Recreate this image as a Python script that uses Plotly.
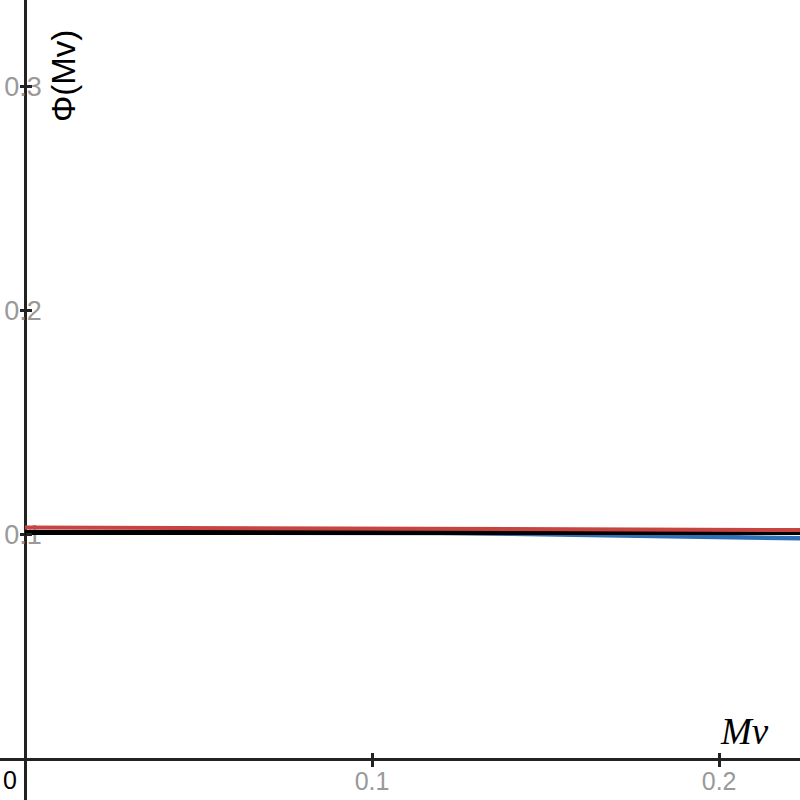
import plotly.graph_objects as go

# data
x_vals = [0.0, 0.02, 0.04, 0.06, 0.08, 0.10, 0.12, 0.14, 0.16, 0.18, 0.20, 0.224]
red_vals = [0.1033, 0.1032, 0.1031, 0.1030, 0.1029, 0.1028, 0.1027, 0.1026, 0.1025, 0.1024, 0.1023, 0.1022]
black_vals = [0.1011, 0.1011, 0.1011, 0.1011, 0.1011, 0.1011, 0.1011, 0.1011, 0.1011, 0.1011, 0.1011, 0.1011]
blue_vals = [0.1011, 0.1011, 0.1011, 0.1011, 0.1011, 0.1010, 0.1009, 0.1005, 0.0999, 0.0994, 0.0990, 0.0985]
x_ticks = [0.1, 0.2]
x_tick_text = ["0.1", "0.2"]
y_ticks = [0.1, 0.2, 0.3]
y_tick_text = ["0.1", "0.2", "0.3"]

x_range = [-0.0072, 0.2233]
y_range = [-0.0183, 0.3388]

fig = go.Figure()
fig.add_trace(go.Scatter(x=x_vals, y=blue_vals, mode="lines",
                         line=dict(color="#2d70b3", width=4.5), showlegend=False))
fig.add_trace(go.Scatter(x=x_vals, y=black_vals, mode="lines",
                         line=dict(color="#000000", width=5), showlegend=False))
fig.add_trace(go.Scatter(x=x_vals, y=red_vals, mode="lines",
                         line=dict(color="#c74440", width=4), showlegend=False))

xpos = (0 - y_range[0]) / (y_range[1] - y_range[0])
ypos = (0 - x_range[0]) / (x_range[1] - x_range[0])

tickfont = dict(family="Liberation Sans, Arial, sans-serif", size=25, color="#999999")
ytickfont = dict(family="Liberation Sans, Arial, sans-serif", size=27, color="#999999")

fig.update_layout(
    width=800, height=800,
    margin=dict(l=0, r=0, t=0, b=0),
    plot_bgcolor="white", paper_bgcolor="white",
    showlegend=False,
    xaxis=dict(range=x_range, showgrid=False, zeroline=False,
               anchor="free", position=xpos,
               showline=True, linecolor="#222222", linewidth=2.5,
               ticks="outside", ticklen=6, tickwidth=2.5, tickcolor="#222222",
               tickvals=x_ticks, ticktext=x_tick_text, tickfont=tickfont,
               ticklabelstandoff=-7,
               layer="below traces"),
    xaxis2=dict(range=x_range, overlaying="x", anchor="free", position=xpos,
                showgrid=False, zeroline=False, showline=False,
                ticks="inside", ticklen=6, tickwidth=2.5, tickcolor="#222222",
                tickvals=x_ticks, showticklabels=False),
    yaxis=dict(range=y_range, showgrid=False, zeroline=False,
               anchor="free", position=ypos,
               showline=True, linecolor="#222222", linewidth=2.5,
               ticks="outside", ticklen=4, tickwidth=2.5, tickcolor="#222222",
               tickvals=y_ticks, ticktext=y_tick_text, tickfont=ytickfont,
               ticklabelstandoff=-27,
               layer="below traces"),
    yaxis2=dict(range=y_range, overlaying="y", anchor="free", position=ypos,
                showgrid=False, zeroline=False, showline=False,
                ticks="inside", ticklen=6, tickwidth=2.5, tickcolor="#222222",
                tickvals=y_ticks, showticklabels=False),
)

# dummy trace to activate the overlay axes for tick marks
fig.add_trace(go.Scatter(x=[None], y=[None], xaxis="x2", yaxis="y2", showlegend=False))

fig.add_annotation(x=0.0125, y=0.025, xref="paper", yref="paper", text="0",
                   xanchor="center", yanchor="middle",
                   showarrow=False, font=dict(family="Liberation Sans, Arial, sans-serif",
                                              size=25, color="#000000"))
fig.add_annotation(x=0.931, y=0.086, xref="paper", yref="paper", text="<i>Mv</i>",
                   xanchor="center", yanchor="middle",
                   showarrow=False, font=dict(family="Liberation Serif, Times New Roman, serif",
                                              size=37, color="#000000"))
fig.add_annotation(x=0.080, y=0.905, xref="paper", yref="paper", text="Φ(Mv)",
                   xanchor="center", yanchor="middle",
                   textangle=-90, showarrow=False,
                   font=dict(family="Liberation Sans, Arial, sans-serif", size=33, color="#000000"))

fig.write_html("out.html", config={"displayModeBar": False},
               post_script="document.body.style.margin='0';document.body.style.overflow='hidden';")
